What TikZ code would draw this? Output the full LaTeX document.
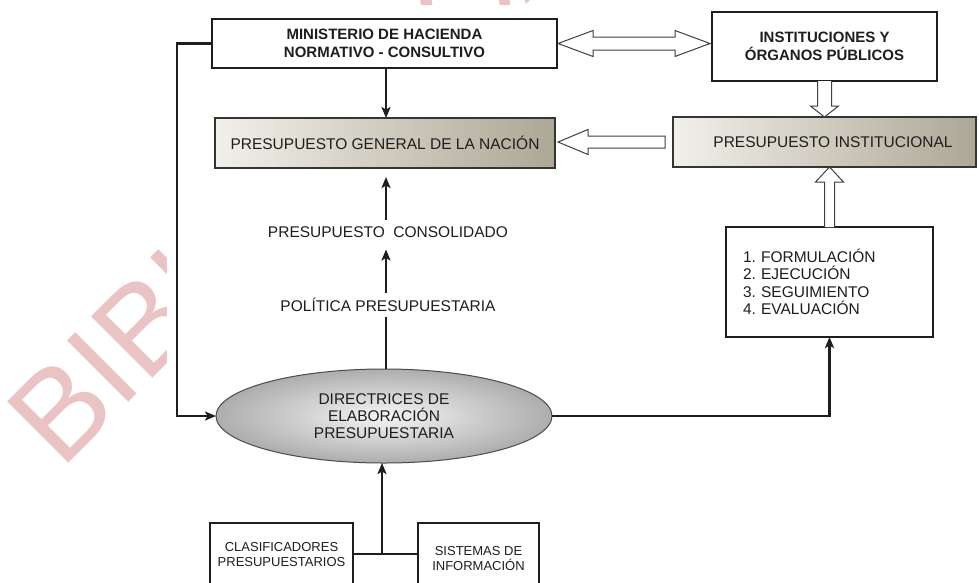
\documentclass[tikz,border=0pt]{standalone}
\usepackage{fontspec}
\setmainfont{Liberation Sans}
\usetikzlibrary{arrows.meta,calc,shapes.geometric}
\frenchspacing

\definecolor{ink}{HTML}{1E1E1E}
\definecolor{wmpink}{HTML}{EAC4C4}
\definecolor{taupeL}{HTML}{F2F0EA}
\definecolor{taupeR}{HTML}{ADA795}
\definecolor{ellIn}{HTML}{F5F5F5}
\definecolor{ellOut}{HTML}{ADADAD}

\begin{document}
\begin{tikzpicture}[x=1pt,y=-1pt,
  every node/.style={inner sep=0pt, outer sep=0pt, text=ink},
  lbl/.style={font=\fontsize{15.5}{17.5}\selectfont},
  boldlbl/.style={font=\fontsize{15}{18}\selectfont\bfseries},
  smalllbl/.style={font=\fontsize{13}{15}\selectfont},
  plainbox/.style={draw=ink, line width=1.3pt, fill=white},
  shadedbox/.style={draw=ink!90, line width=1.3pt, left color=taupeL, right color=taupeR},
  conn/.style={draw=ink, line width=2.2pt, -{Stealth[length=11pt,width=9pt,inset=2.5pt]}},
  hollow/.style={draw=ink!85, line width=1pt, fill=white, line join=miter},
  wm/.style={text=wmpink, font=\fontsize{126}{126}\selectfont}
]
\useasboundingbox (0,0) rectangle (979,582);
\clip (0,0) rectangle (979,582);
\fill[white] (0,0) rectangle (979,582);

% background watermark, covered by the diagram sheet
\node[wm, rotate=45, anchor=base west] (wmark) at (61,470) {BIBLIOTECA};
\fill[white] (167,5) rectangle (979,582);

% boxes
\node[plainbox, boldlbl, align=center, minimum width=345pt, minimum height=49pt]
  (min) at (384.5,43.5) {MINISTERIO DE HACIENDA\\NORMATIVO - CONSULTIVO};
\node[plainbox, boldlbl, align=center, minimum width=225pt, minimum height=69pt]
  (inst) at (824.5,46.5) {INSTITUCIONES Y\\ÓRGANOS PÚBLICOS};
\node[shadedbox, lbl, minimum width=340pt, minimum height=50pt]
  (pgn) at (385,143) {PRESUPUESTO GENERAL DE LA NACIÓN};
\node[shadedbox, lbl, minimum width=303pt, minimum height=50pt]
  (pi) at (824.5,142) {\hspace*{17pt}PRESUPUESTO INSTITUCIONAL};
\node[plainbox, lbl, align=left, text width=173pt, inner xsep=17pt, minimum height=110pt]
  (list) at (829.5,282) {1. FORMULACIÓN\\2. EJECUCIÓN\\3. SEGUIMIENTO\\4. EVALUACIÓN};

\node[ellipse, draw=ink!80, line width=1pt, inner color=ellIn, outer color=ellOut,
  minimum width=336pt, minimum height=94pt, lbl, align=center, font=\fontsize{15.5}{17}\selectfont]
  (ell) at (384,416) {DIRECTRICES DE\\ELABORACIÓN\\PRESUPUESTARIA};

\node[plainbox, smalllbl, align=center, anchor=north, minimum width=143pt, inner ysep=19pt]
  (clas) at (281.5,523) {CLASIFICADORES\\PRESUPUESTARIOS};
\node[plainbox, smalllbl, align=center, anchor=north, minimum width=121pt, inner ysep=23pt]
  (sist) at (478.5,523) {SISTEMAS DE\\INFORMACIÓN};

% central flow labels
\node[lbl, fill=white, inner xsep=2pt, inner ysep=3pt] (cons) at (388,232) {PRESUPUESTO\ \ CONSOLIDADO};

% connectors
\draw[conn] (min.south -| 386,0) -- (pgn.north -| 386,0);
\draw[conn, shorten >=9pt] (ell.north -| 386,0) -- (cons.south -| 386,0);
\draw[conn, shorten <=4pt, shorten >=9pt] (cons.north -| 386,0) -- (pgn.south -| 386,0);
\node[lbl, fill=white, inner xsep=2pt, inner ysep=5pt] (pol) at (388,305) {POLÍTICA PRESUPUESTARIA};

\draw[conn] (min.west) -- ++(-35,0) |- (ell.west);
\draw[conn] (ell.east) -| (list.south);

\coordinate (join) at (382,554);
\draw[draw=ink, line width=2.2pt] (clas.east |- join) -- (sist.west |- join);
\draw[conn] (join) -- (join |- ell.south);

% hollow block arrows
\coordinate (dL) at ($(min.east)+(1,0)$);
\coordinate (dR) at ($(inst.west |- min.east)+(-2,0)$);
\draw[hollow] (dL) -- ++(35,-13) -- ++(0,6.5) -- ($(dR)+(-35,-6.5)$) -- ++(0,-6.5)
  -- (dR) -- ++(-35,13) -- ++(0,-6.5) -- ($(dL)+(35,6.5)$) -- ++(0,6.5) -- cycle;

\coordinate (lT) at ($(pgn.east)+(3,-1)$);
\coordinate (lS) at ($(pi.west)+(-8,0)$);
\draw[hollow] (lT) -- ++(30,-12.5) -- ++(0,6.5) -- ($(lS)+(0,-6)$) -- ($(lS)+(0,6)$)
  -- ($(lT)+(30,6)$) -- ++(0,6.5) -- cycle;

\draw[hollow] ($(inst.south)+(-7,0)$) -- ($(pi.north)+(-7,-11)$) -- ++(-7,0) -- (pi.north)
  -- ++(14,-11) -- ++(-7,0) -- ($(inst.south)+(7,0)$);

\coordinate (uT) at ($(pi.south)+(5,0)$);
\draw[hollow] ($(list.north)+(-5,0)$) -- ($(uT)+(-5,15)$) -- ++(-9,0) -- (uT)
  -- ++(14,15) -- ++(-9,0) -- ($(list.north)+(5,0)$);
\end{tikzpicture}
\end{document}
